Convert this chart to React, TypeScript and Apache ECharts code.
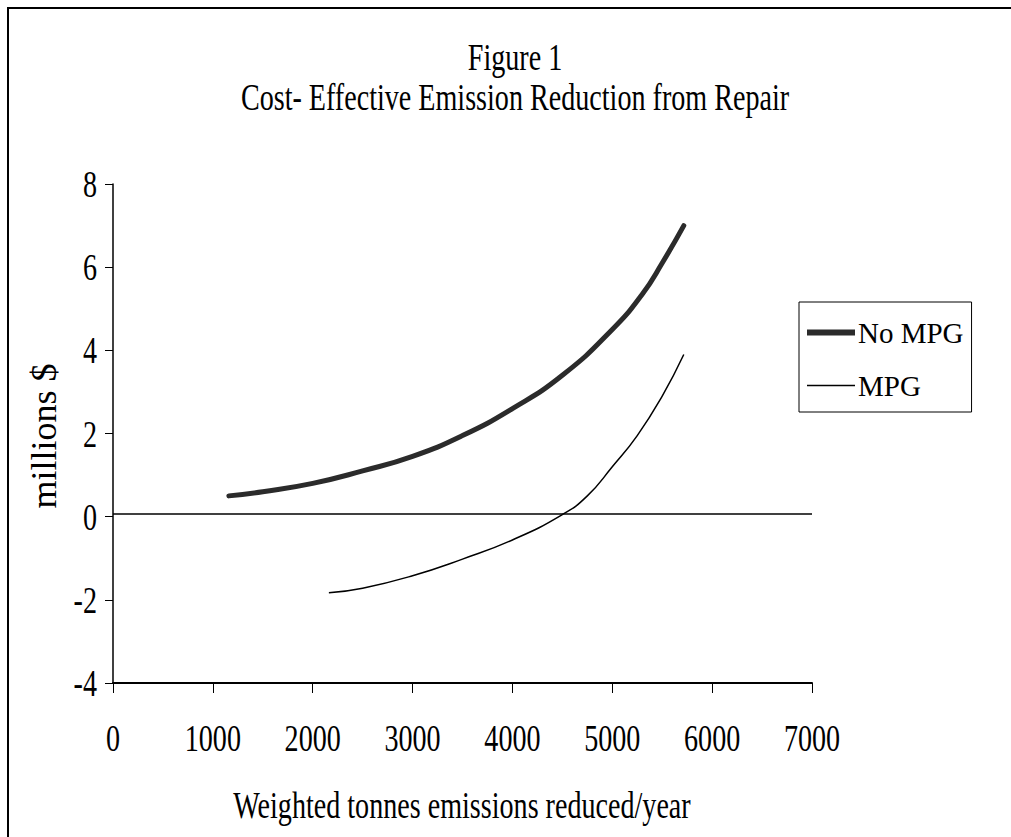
import React, { useEffect, useRef } from "react";
import * as echarts from "echarts";

const noMpgX = [1160, 1500, 2000, 2500, 3000, 3500, 4000, 4500, 5000, 5300, 5500, 5716];
const noMpgY = [0.5, 0.6, 0.8, 1.1, 1.45, 1.95, 2.6, 3.4, 4.5, 5.35, 6.1, 7.0];
const mpgX = [2162, 2500, 3000, 3500, 4000, 4500, 4750, 5000, 5250, 5500, 5716];
const mpgY = [-1.83, -1.72, -1.42, -1.02, -0.56, 0.05, 0.5, 1.2, 1.95, 2.9, 3.9];
const seriesNames = ["No MPG", "MPG"];
const xTickLabels = ["0", "1000", "2000", "3000", "4000", "5000", "6000", "7000"];
const yTickLabels = ["-4", "-2", "0", "2", "4", "6", "8"];
const titleText = "Figure 1";
const subtitleText = "Cost- Effective Emission Reduction from Repair";
const xAxisTitle = "Weighted tonnes emissions reduced/year";
const yAxisTitle = "millions $";

const FONT = '"Liberation Serif", "Times New Roman", serif';
const SQ = 0.74;

export default function App() {
  const ref = useRef<HTMLDivElement>(null);
  useEffect(() => {
    document.body.style.margin = "0";
    const chart = echarts.init(ref.current!, null, { renderer: "svg" });
    const zip = (xs: number[], ys: number[]) => xs.map((x, i) => [x, ys[i]]);
    const txt = (text: string, x: number, y: number, size: number, align = "center", extra: any = {}) => ({
      type: "text",
      x,
      y,
      scaleX: SQ,
      ...extra,
      style: { text, font: `${size}px ${FONT}`, fill: "#000", textAlign: align, textVerticalAlign: "middle" },
    });
    const baseGraphic = [
      { type: "line", shape: { x1: 8, y1: 7, x2: 8, y2: 837 }, style: { stroke: "#000", lineWidth: 2 } },
      { type: "line", shape: { x1: 7, y1: 8, x2: 1011, y2: 8 }, style: { stroke: "#000", lineWidth: 2 } },
      txt(titleText, 515, 57, 38),
      txt(subtitleText, 515, 97, 38),
      txt(xAxisTitle, 462, 805, 38),
      {
        type: "text",
        x: 44,
        y: 436,
        rotation: Math.PI / 2,
        style: { text: yAxisTitle, font: `36px ${FONT}`, fill: "#000", textAlign: "center", textVerticalAlign: "middle" },
      },
    ];
    chart.setOption({
      animation: false,
      backgroundColor: "#ffffff",
      grid: { left: 113, right: 199, top: 184, bottom: 154 },
      xAxis: {
        type: "value",
        min: 0,
        max: 7000,
        interval: 1000,
        axisLine: { show: true, onZero: false, lineStyle: { color: "#000", width: 2 } },
        axisTick: { show: true, length: 10, lineStyle: { color: "#000" } },
        splitLine: { show: false },
        axisLabel: { show: false },
      },
      yAxis: {
        type: "value",
        min: -4,
        max: 8,
        interval: 2,
        axisLine: { show: true, onZero: false, lineStyle: { color: "#000", width: 1.5 } },
        axisTick: { show: true, length: 8, lineStyle: { color: "#000" } },
        splitLine: { show: false },
        axisLabel: { show: false },
      },
      legend: {
        orient: "vertical",
        left: 799,
        top: 302,
        itemWidth: 48,
        itemHeight: 14,
        itemGap: 24,
        symbolKeepAspect: true,
        padding: [16, 8, 12, 8],
        borderColor: "#000",
        borderWidth: 1,
        textStyle: { color: "#000", fontFamily: FONT, fontSize: 29, padding: [0, 0, 0, -2] },
        data: [
          { name: seriesNames[0], icon: "path://M0,0H48V6H0Z", itemStyle: { color: "#2b2b2b" } },
          { name: seriesNames[1], icon: "path://M0,0H48V1.5H0Z", itemStyle: { color: "#000" } },
        ],
      },
      graphic: baseGraphic,
      series: [
        {
          name: seriesNames[0],
          type: "line",
          smooth: true,
          showSymbol: false,
          symbol: "none",
          data: zip(noMpgX, noMpgY),
          itemStyle: { color: "#2b2b2b" },
          lineStyle: { color: "#2b2b2b", width: 5, cap: "round" },
        },
        {
          name: seriesNames[1],
          type: "line",
          smooth: true,
          showSymbol: false,
          symbol: "none",
          data: zip(mpgX, mpgY),
          itemStyle: { color: "#000" },
          lineStyle: { color: "#000", width: 1.5 },
          markLine: {
            silent: true,
            symbol: "none",
            label: { show: false },
            lineStyle: { color: "#000", width: 1.5, type: "solid" },
            data: [{ yAxis: 0.08 }],
          },
        },
      ],
    });
    const xAxisPix = chart.convertToPixel({ yAxisIndex: 0 }, -4) as number;
    const yAxisPix = chart.convertToPixel({ xAxisIndex: 0 }, 0) as number;
    const xLabels = xTickLabels.map((t) =>
      txt(t, chart.convertToPixel({ xAxisIndex: 0 }, Number(t)) as number, xAxisPix + 55, 38)
    );
    const yLabels = yTickLabels.map((t) =>
      txt(t, yAxisPix - 16, chart.convertToPixel({ yAxisIndex: 0 }, Number(t)) as number, 38, "right")
    );
    chart.setOption({ graphic: [...baseGraphic, ...xLabels, ...yLabels] });
    return () => chart.dispose();
  }, []);
  return <div ref={ref} style={{ width: 1011, height: 837 }} />;
}
